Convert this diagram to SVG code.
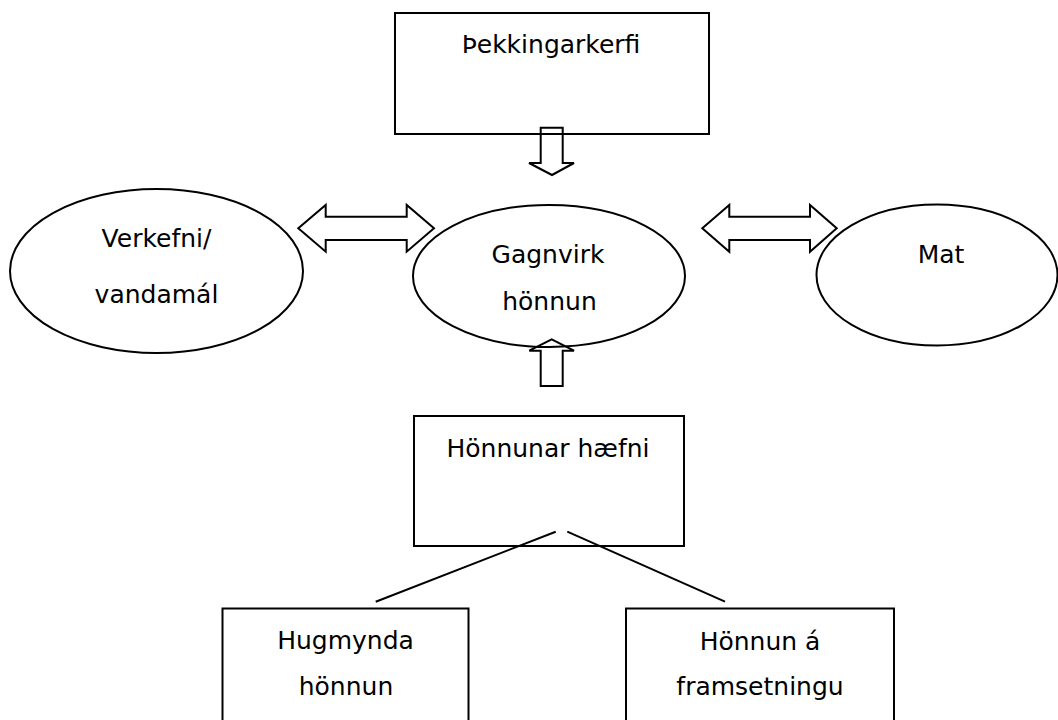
<svg xmlns="http://www.w3.org/2000/svg" width="1058" height="720" viewBox="0 0 1058 720">
<style>
.s{fill:#fff;stroke:#000;stroke-width:2}
.a{fill:none;stroke:#000;stroke-width:2;stroke-linejoin:miter}
.l{stroke:#000;stroke-width:2;fill:none}
text{font-family:"DejaVu Sans","Liberation Sans",sans-serif;font-size:25px;fill:#000;text-anchor:middle}
</style>
<rect width="1058" height="720" fill="#fff"/>
<g id="pekking">
<rect class="s" x="395" y="13" width="314" height="121"/>
<text x="551" y="53">Þekkingarkerfi</text>
</g>
<g id="verkefni">
<ellipse class="s" cx="156.5" cy="271" rx="146.5" ry="82"/>
<text x="156.5" y="247">Verkefni/</text>
<text x="156.5" y="303">vandamál</text>
</g>
<g id="gagnvirk">
<ellipse class="s" cx="549" cy="276" rx="136" ry="71"/>
<text x="548" y="263">Gagnvirk</text>
<text x="549.5" y="310">hönnun</text>
</g>
<g id="mat">
<ellipse class="s" cx="937" cy="275" rx="120.5" ry="70.5"/>
<text x="941" y="263">Mat</text>
</g>
<g id="honnunar">
<rect class="s" x="414" y="416" width="270" height="130"/>
<text x="548" y="457">Hönnunar hæfni</text>
</g>
<g id="hugmynda">
<rect class="s" x="222.5" y="608.5" width="246" height="120"/>
<text x="345.5" y="649">Hugmynda</text>
<text x="346" y="695">hönnun</text>
</g>
<g id="framsetning">
<rect class="s" x="626" y="608.5" width="268" height="120"/>
<text x="760" y="650">Hönnun á</text>
<text x="760" y="695">framsetningu</text>
</g>
<g id="connectors">
<polygon class="a" points="540.7,127.7 562.7,127.7 562.7,163 574,163 552,175 529,163 540.7,163"/>
<polygon class="a" points="551.7,339.3 574,350.7 562.7,350.7 562.7,386 540.7,386 540.7,350.7 529.3,350.7"/>
<polygon class="a" points="298.3,228.3 325.7,205 325.7,216.7 406.7,216.7 406.7,205 434,228.3 406.7,251.7 406.7,240 325.7,240 325.7,251.7"/>
<polygon class="a" points="702.3,228.3 729.3,205 729.3,216.7 810,216.7 810,205 836.7,228.3 810,251.7 810,240 729.3,240 729.3,251.7"/>
<line class="l" x1="555.7" y1="531.7" x2="375.7" y2="601.7"/>
<line class="l" x1="567.3" y1="531.7" x2="725" y2="601.7"/>
</g>
</svg>
